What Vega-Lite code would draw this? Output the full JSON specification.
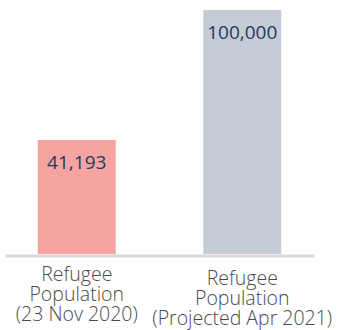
{
  "$schema": "https://vega.github.io/schema/vega-lite/v6.json",
  "autosize": "none",
  "width": 309,
  "height": 244,
  "padding": {"left": 5, "top": 10, "right": 28, "bottom": 76},
  "background": "white",
  "config": {"view": {"stroke": null}},
  "data": {"values": [
    {"category": "Refugee|Population|(23 Nov 2020)", "value": 41193, "label": "41,193", "base": -10332},
    {"category": "Refugee|Population|(Projected Apr 2021)", "value": 100000, "label": "100,000", "base": -10332}
  ]},
  "encoding": {
    "x": {
      "field": "category", "type": "nominal", "sort": null,
      "scale": {"paddingInner": 0.529, "paddingOuter": 0.198},
      "axis": {
        "title": null, "labelAngle": 0, "ticks": false,
        "domainColor": "#d9d9d9", "domainWidth": 3, "offset": 1.5,
        "labelExpr": "split(datum.value, '|')",
        "labelFont": "Open Sans", "labelFontSize": 19.5, "labelFontWeight": 300, "labelColor": "#4a4a4a",
        "labelLineHeight": 20,
        "labelPadding": {"condition": {"test": "indexof(datum.value, 'Projected') >= 0", "value": 14}, "value": 10},
        "labelBaseline": "top", "labelOverlap": false, "labelBound": false
      }
    },
    "y": {
      "field": "value", "type": "quantitative",
      "scale": {"domain": [-10332, 100000], "nice": false, "zero": false},
      "axis": null
    }
  },
  "layer": [
    {
      "mark": {"type": "bar"},
      "encoding": {
        "y2": {"field": "base"},
        "color": {"field": "category", "type": "nominal", "legend": null,
          "scale": {"range": ["#f5a4a2", "#c6ccd7"]}}
      }
    },
    {
      "mark": {"type": "text", "baseline": "alphabetic", "dy": 29, "font": "Open Sans", "fontSize": 19, "color": "#1d3a5f"},
      "encoding": {"text": {"field": "label"}}
    }
  ]
}
